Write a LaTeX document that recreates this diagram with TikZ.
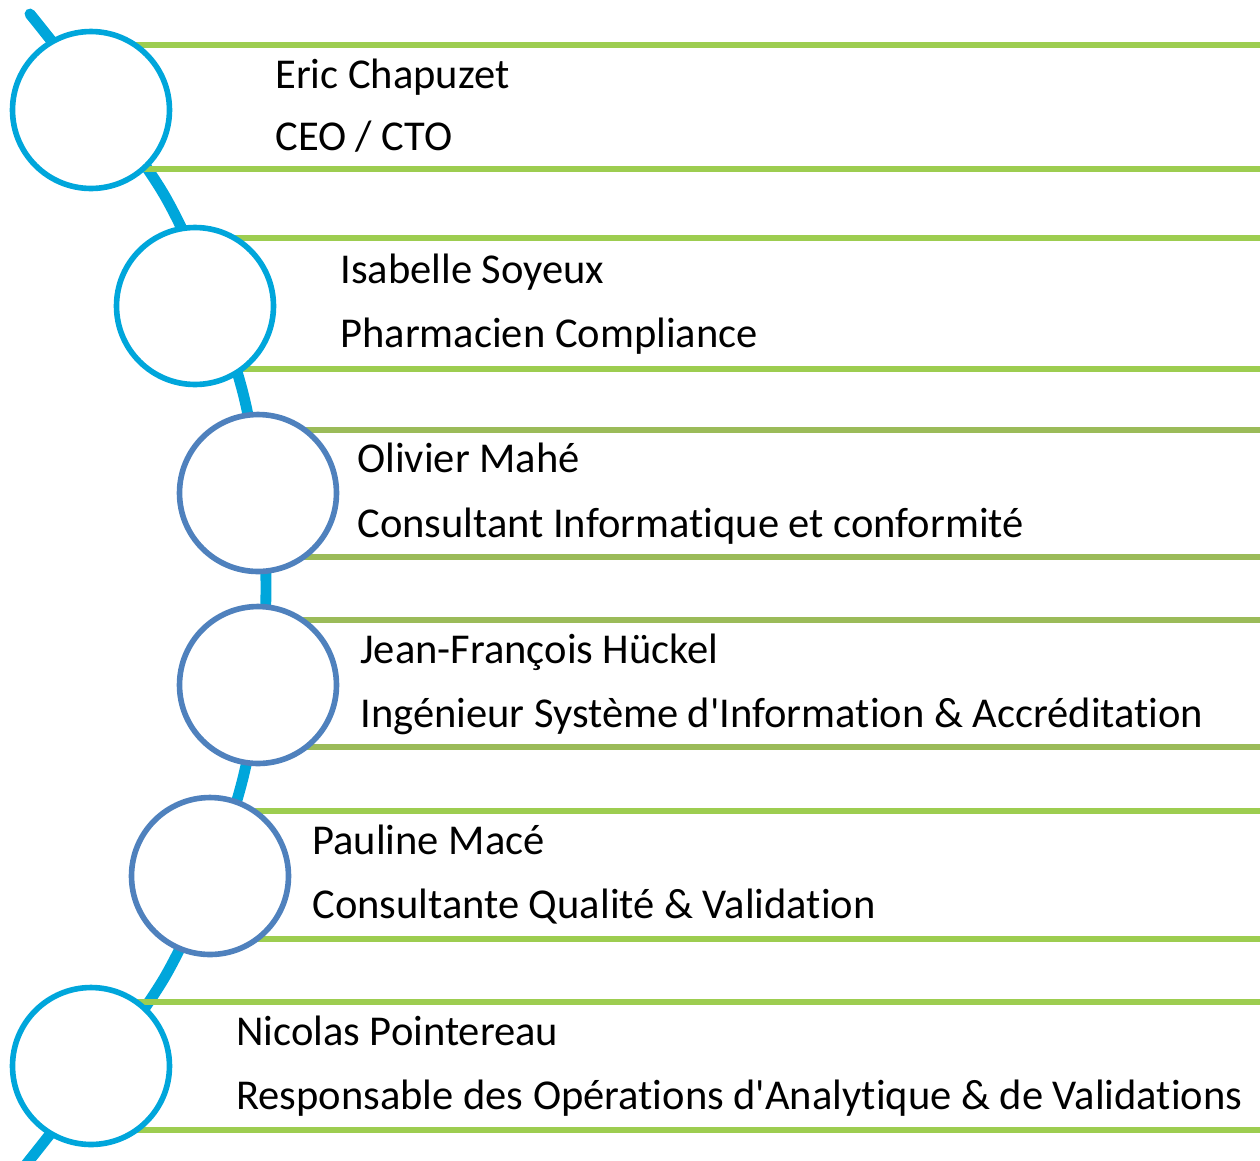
\documentclass[tikz,border=0pt]{standalone}
\usepackage{fontspec}
\setmainfont{Carlito}[Ligatures=NoCommon]
\definecolor{spinecyan}{HTML}{00A6DB}
\definecolor{ringblue}{HTML}{4F81BD}
\definecolor{barlime}{HTML}{9DCD50}
\definecolor{barolive}{HTML}{9BBB59}
\tikzset{
  spine/.style={color=spinecyan,line width=6.2pt,line cap=round},
  bar/.style={line width=3pt},
  ring/.style={circle,draw=#1,line width=3.2pt,fill=white,minimum size=3.14cm,inner sep=0pt},
  label text/.style={anchor=base west,inner sep=0pt,font=\fontsize{24.2}{29}\selectfont}
}
\begin{document}
\begin{tikzpicture}[x=0.02cm,y=-0.02cm]
\useasboundingbox (0,0) rectangle (1260,1160);
% spine behind the rings
\coordinate (s0) at (30,14);
\coordinate (s1) at (166,198);
\coordinate (s2) at (243,393);
\coordinate (s3) at (266,589);
\coordinate (s4) at (242,782);
\coordinate (s5) at (166,975);
\coordinate (s6) at (20,1172);
\draw[spine] plot[smooth] coordinates {(s0) (s1) (s2) (s3) (s4) (s5) (s6)};
% green bars
\foreach \cx/\ytop/\ybot/\col in {91/45/169/barlime,195/238/369/barlime,258/430/557/barolive,
                                  258/620/747/barolive,210/811/939/barlime,91/1002/1130/barlime}
{
  \draw[bar,color=\col] (\cx,\ytop) -- (1260,\ytop);
  \draw[bar,color=\col] (\cx,\ybot) -- (1260,\ybot);
}
% rings
\foreach \i/\cx/\cy/\col in {1/91/110/spinecyan,2/195/306/spinecyan,3/258/493/ringblue,
                             4/258/685/ringblue,5/210/876/ringblue,6/91/1066/spinecyan}
  \node[ring=\col] (c\i) at (\cx,\cy) {};
% names and roles
\node[label text] (n1) at (275,88) {Eric Chapuzet};
\node[label text] (r1) at (275,150) {CEO / CTO};
\node[label text] (n2) at (340,283) {Isabelle Soyeux};
\node[label text] (r2) at (340,347) {Pharmacien Compliance};
\node[label text] (n3) at (357,472) {Olivier Mahé};
\node[label text] (r3) at (357,537) {Consultant Informatique et conformité};
\node[label text] (n4) at (360,663) {Jean-François Hückel};
\node[label text] (r4) at (360,727) {Ingénieur Système d\textquotesingle Information \& Accréditation};
\node[label text] (n5) at (312,854) {Pauline Macé};
\node[label text] (r5) at (312,918) {Consultante Qualité \& Validation};
\node[label text] (n6) at (236,1045) {Nicolas Pointereau};
\node[label text] (r6) at (236,1109) {Responsable des Opérations d\textquotesingle Analytique \& de Validations};
\end{tikzpicture}
\end{document}
